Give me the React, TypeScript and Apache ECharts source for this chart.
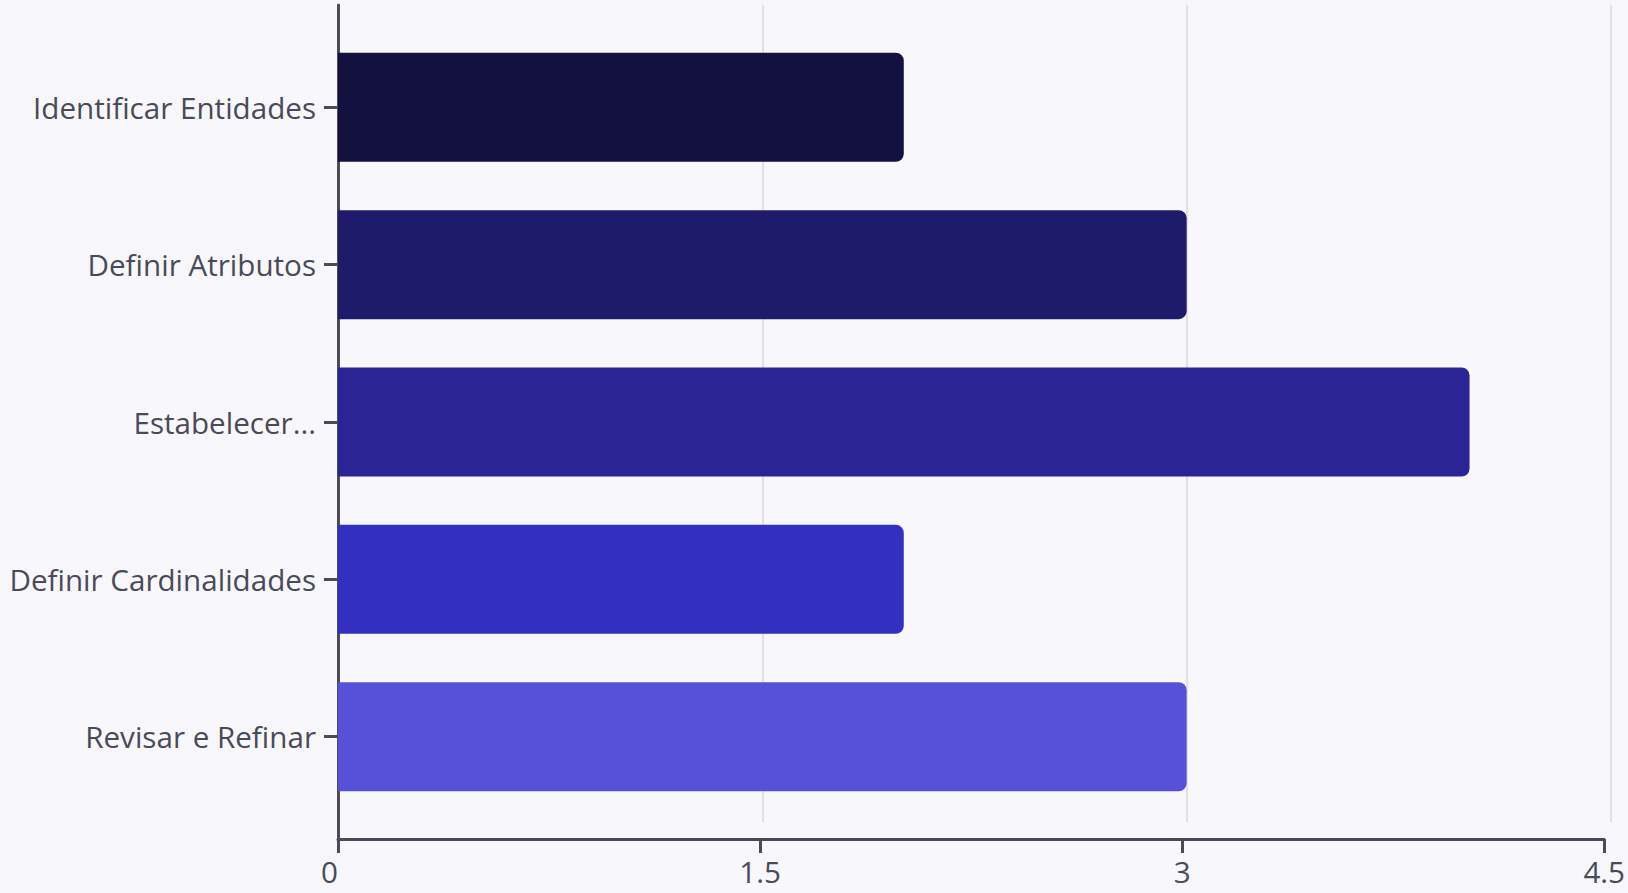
import React, { useEffect, useRef } from "react";
import * as echarts from "echarts";

const categories = [
  "Identificar Entidades",
  "Definir Atributos",
  "Estabelecer...",
  "Definir Cardinalidades",
  "Revisar e Refinar",
];
const values = [2, 3, 4, 2, 3];
const barColors = ["#12113f", "#1e1b6a", "#2a2596", "#3430bf", "#5651d6"];
const xTicks = [0, 1.5, 3, 4.5];

const AXIS = "#4a4a59";
const TEXT = "#4a4a59";
const FONT = "'Open Sans', 'Noto Sans', sans-serif";

export default function App() {
  const ref = useRef<HTMLDivElement>(null);
  useEffect(() => {
    if (!ref.current) return;
    const chart = echarts.init(ref.current, undefined, { renderer: "svg" });
    const L = 338;
    const R = 17;
    const xMin = xTicks[0];
    const xMax = xTicks[xTicks.length - 1];
    const step = xTicks[1] - xTicks[0];
    chart.setOption({
      animation: false,
      backgroundColor: "#f8f8fc",
      textStyle: { fontFamily: FONT },
      grid: [
        { left: L, right: R, top: 5, bottom: 71, containLabel: false },
        { left: L, right: R, top: 5, bottom: 54, containLabel: false },
        { left: L, right: R, top: 28.6, bottom: 77.6, containLabel: false },
      ],
      xAxis: [
        {
          gridIndex: 0,
          type: "value",
          min: xMin,
          max: xMax,
          interval: step,
          axisLine: { show: false },
          axisTick: { show: false },
          axisLabel: { show: false },
          splitLine: { show: true, lineStyle: { color: "#d9d9df", width: 1.5 } },
        },
        {
          gridIndex: 1,
          type: "value",
          min: xMin,
          max: xMax,
          interval: step,
          axisLine: { show: true, lineStyle: { color: AXIS, width: 3 } },
          axisTick: { show: true, length: 14, lineStyle: { color: AXIS, width: 3 } },
          axisLabel: {
            show: true,
            color: TEXT,
            fontSize: 29.6,
            lineHeight: 30,
            fontFamily: FONT,
            margin: 17,
            showMaxLabel: true,
            showMinLabel: true,
            alignMinLabel: "right",
          },
          splitLine: { show: false },
        },
        {
          gridIndex: 2,
          type: "value",
          min: xMin,
          max: xMax,
          show: false,
        },
      ],
      yAxis: [
        { gridIndex: 0, type: "value", show: false },
        {
          gridIndex: 1,
          type: "value",
          axisLine: { show: true, onZero: false, lineStyle: { color: AXIS, width: 3 } },
          axisTick: { show: false },
          axisLabel: { show: false },
          splitLine: { show: false },
        },
        {
          gridIndex: 2,
          type: "category",
          inverse: true,
          data: categories,
          axisLine: { show: false },
          axisTick: {
            show: true,
            alignWithLabel: true,
            length: 14,
            lineStyle: { color: AXIS, width: 3 },
          },
          axisLabel: {
            color: TEXT,
            fontSize: 29.6,
            fontFamily: FONT,
            margin: 22,
          },
          splitLine: { show: false },
        },
      ],
      series: [
        {
          type: "bar",
          xAxisIndex: 2,
          yAxisIndex: 2,
          barWidth: 109,
          data: values.map((v, i) => ({
            value: v,
            itemStyle: { color: barColors[i], borderRadius: [0, 8, 8, 0] },
          })),
        },
      ],
    });
    return () => chart.dispose();
  }, []);
  return (
    <div
      ref={ref}
      style={{ position: "fixed", left: 0, top: 0, width: 1628, height: 893 }}
    />
  );
}
